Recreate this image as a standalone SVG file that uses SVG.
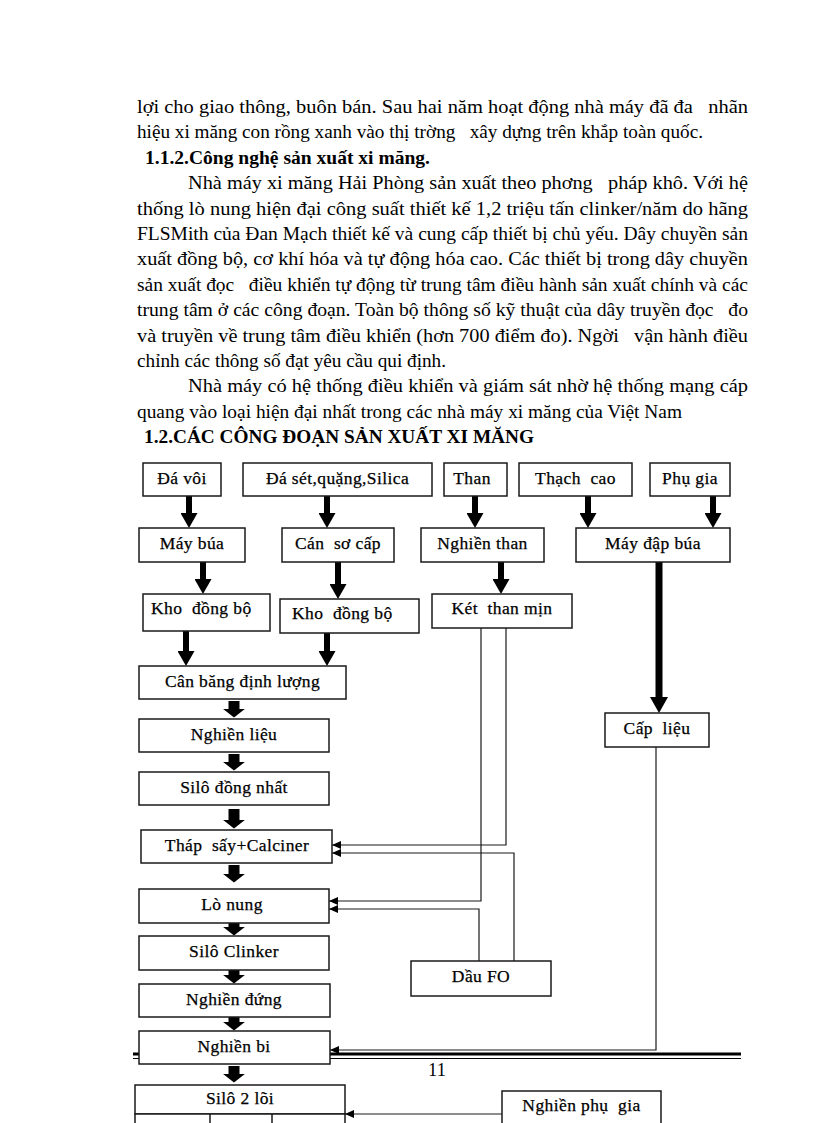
<svg xmlns="http://www.w3.org/2000/svg" width="816" height="1123" viewBox="0 0 816 1123" xml:space="preserve">
<style>
  .p { font-family: "Liberation Serif", "Times New Roman", serif; font-size: 18.5px; fill: #000; white-space: pre; }
  .h { font-family: "Liberation Serif", "Times New Roman", serif; font-size: 18.5px; font-weight: bold; fill: #000; white-space: pre; }
  .box rect { fill: #fff; stroke: #1a1a1a; stroke-width: 1.5; }
  .box text { font-family: "Liberation Serif", "Times New Roman", serif; font-size: 17.5px; letter-spacing: 0.4px; fill: #000; stroke: #000; stroke-width: 0.25; text-anchor: middle; white-space: pre; }
  .box text.l { text-anchor: start; }
  .thick { stroke: #000; stroke-width: 6; fill: none; marker-end: url(#ah); }
  .thick2 { stroke: #000; stroke-width: 7; fill: none; marker-end: url(#ah2); }
  .fat { stroke: #000; stroke-width: 11; fill: none; marker-end: url(#fh); }
  .thina { stroke: #1a1a1a; stroke-width: 1.2; fill: none; marker-end: url(#as); }
</style>
<defs>
  <marker id="ah" viewBox="0 0 15 17" markerWidth="15" markerHeight="17" refX="5" refY="8.5" orient="auto" markerUnits="userSpaceOnUse"><path d="M0,0 L15,8.5 L0,17 Z" fill="#000"/></marker>
  <marker id="ah2" viewBox="0 0 16 18" markerWidth="16" markerHeight="18" refX="5" refY="9" orient="auto" markerUnits="userSpaceOnUse"><path d="M0,0 L16,9 L0,18 Z" fill="#000"/></marker>
  <marker id="fh" viewBox="0 0 9 23" markerWidth="9" markerHeight="23" refX="0.5" refY="11.5" orient="auto" markerUnits="userSpaceOnUse"><path d="M0,0 L9,11.5 L0,23 Z" fill="#000"/></marker>
  <marker id="as" viewBox="0 0 9 8" markerWidth="9" markerHeight="8" refX="9" refY="4" orient="auto" markerUnits="userSpaceOnUse"><path d="M0,0 L9,4 L0,8 Z" fill="#000"/></marker>
</defs>
<rect width="816" height="1123" fill="#fff"/>

<g id="body-text">
  <text class="p" x="137" y="113" textLength="611" lengthAdjust="spacingAndGlyphs">lợi cho giao thông, buôn bán. Sau hai năm hoạt động nhà máy đã đa   nhãn</text>
  <text class="p" x="137" y="138.4" textLength="566" lengthAdjust="spacingAndGlyphs">hiệu xi măng con rồng xanh vào thị trờng   xây dựng trên khắp toàn quốc.</text>
  <text class="h" x="145" y="163.8" textLength="285" lengthAdjust="spacingAndGlyphs">1.1.2.Công nghệ sản xuất xi măng.</text>
  <text class="p" x="188" y="189.2" textLength="560" lengthAdjust="spacingAndGlyphs">Nhà máy xi măng Hải Phòng sản xuất theo phơng   pháp khô. Với hệ</text>
  <text class="p" x="137" y="214.6" textLength="611" lengthAdjust="spacingAndGlyphs">thống lò nung hiện đại công suất thiết kế 1,2 triệu tấn clinker/năm do hãng</text>
  <text class="p" x="137" y="240" textLength="611" lengthAdjust="spacingAndGlyphs">FLSMith của Đan Mạch thiết kế và cung cấp thiết bị chủ yếu. Dây chuyền sản</text>
  <text class="p" x="137" y="265.4" textLength="611" lengthAdjust="spacingAndGlyphs">xuất đồng bộ, cơ khí hóa và tự động hóa cao. Các thiết bị trong dây chuyền</text>
  <text class="p" x="137" y="290.8" textLength="611" lengthAdjust="spacingAndGlyphs">sản xuất đọc   điều khiển tự động từ trung tâm điều hành sản xuất chính và các</text>
  <text class="p" x="137" y="316.2" textLength="611" lengthAdjust="spacingAndGlyphs">trung tâm ở các công đoạn. Toàn bộ thông số kỹ thuật của dây truyền đọc   đo</text>
  <text class="p" x="137" y="341.6" textLength="611" lengthAdjust="spacingAndGlyphs">và truyền về trung tâm điều khiển (hơn 700 điểm đo). Ngời   vận hành điều</text>
  <text class="p" x="137" y="367" textLength="309" lengthAdjust="spacingAndGlyphs">chỉnh các thông số đạt yêu cầu qui định.</text>
  <text class="p" x="188" y="392.4" textLength="560" lengthAdjust="spacingAndGlyphs">Nhà máy có hệ thống điều khiển và giám sát nhờ hệ thống mạng cáp</text>
  <text class="p" x="137" y="417.8" textLength="545" lengthAdjust="spacingAndGlyphs">quang vào loại hiện đại nhất trong các nhà máy xi măng của Việt Nam</text>
  <text class="h" x="144" y="443.2" textLength="390" lengthAdjust="spacingAndGlyphs">1.2.CÁC CÔNG ĐOẠN SẢN XUẤT XI MĂNG</text>
</g>

<g id="footer">
  <line x1="133" y1="1054" x2="741" y2="1054" stroke="#000" stroke-width="3"/>
  <line x1="133" y1="1058.5" x2="741" y2="1058.5" stroke="#000" stroke-width="1"/>
  <text class="p" x="437" y="1076" text-anchor="middle" font-size="16">11</text>
</g>

<g id="connectors">
  <line class="thick" x1="189" y1="496" x2="189" y2="518"/>
  <line class="thick" x1="327" y1="496" x2="327" y2="518"/>
  <line class="thick" x1="475" y1="496" x2="475" y2="518"/>
  <line class="thick" x1="588" y1="496" x2="588" y2="518"/>
  <line class="thick" x1="713" y1="496" x2="713" y2="518"/>
  <line class="thick" x1="203" y1="562" x2="203" y2="584"/>
  <line class="thick" x1="338" y1="562" x2="338" y2="589"/>
  <line class="thick" x1="501" y1="562" x2="501" y2="584"/>
  <line class="thick" x1="186" y1="631" x2="186" y2="656"/>
  <line class="thick" x1="327" y1="633" x2="327" y2="656"/>
  <line class="thick2" x1="659" y1="562" x2="659" y2="702"/>

  <line class="fat" x1="234" y1="701" x2="234" y2="709"/>
  <line class="fat" x1="234" y1="754" x2="234" y2="762"/>
  <line class="fat" x1="234" y1="809" x2="234" y2="820"/>
  <line class="fat" x1="234" y1="865" x2="234" y2="874"/>
  <line class="fat" x1="234" y1="923" x2="234" y2="927"/>
  <line class="fat" x1="234" y1="970" x2="234" y2="975"/>
  <line class="fat" x1="234" y1="1017" x2="234" y2="1022"/>
  <line class="fat" x1="234" y1="1066" x2="234" y2="1074"/>

  <path class="thina" d="M506,628 V845 H332"/>
  <path class="thina" d="M481,628 V901 H329"/>
  <path class="thina" d="M514,961 V853 H332"/>
  <path class="thina" d="M479,961 V909 H329"/>
  <path class="thina" d="M656,747 V1050 H330"/>
  <path class="thina" d="M502,1114 H345"/>
</g>

<g id="n-da-voi" class="box"><rect x="143" y="463" width="78" height="33"/><text x="182" y="484">Đá vôi</text></g>
<g id="n-da-set" class="box"><rect x="243" y="463" width="189" height="33"/><text x="337.5" y="484">Đá sét,quặng,Silica</text></g>
<g id="n-than" class="box"><rect x="444" y="463" width="63" height="33"/><text x="472" y="484">Than</text></g>
<g id="n-thach-cao" class="box"><rect x="519" y="463" width="113" height="33"/><text x="575.5" y="484">Thạch  cao</text></g>
<g id="n-phu-gia" class="box"><rect x="650" y="463" width="80" height="33"/><text x="690" y="484">Phụ gia</text></g>

<g id="n-may-bua" class="box"><rect x="139" y="528" width="106" height="34"/><text x="192" y="549">Máy búa</text></g>
<g id="n-can-so-cap" class="box"><rect x="282" y="528" width="112" height="34"/><text x="338" y="549">Cán  sơ cấp</text></g>
<g id="n-nghien-than" class="box"><rect x="421" y="528" width="123" height="34"/><text x="482.5" y="549">Nghiền than</text></g>
<g id="n-may-dap-bua" class="box"><rect x="576" y="528" width="154" height="34"/><text x="653" y="549">Máy đập búa</text></g>

<g id="n-kho-1" class="box"><rect x="143" y="594" width="127" height="37"/><text class="l" x="151" y="614">Kho  đồng bộ</text></g>
<g id="n-kho-2" class="box"><rect x="280" y="599" width="139" height="34"/><text class="l" x="292" y="619">Kho  đồng bộ</text></g>
<g id="n-ket-than" class="box"><rect x="432" y="594" width="140" height="34"/><text x="502" y="614">Két  than mịn</text></g>

<g id="n-can-bang" class="box"><rect x="139" y="666" width="207" height="33"/><text x="242.5" y="687">Cân băng định lượng</text></g>
<g id="n-nghien-lieu" class="box"><rect x="139" y="719" width="190" height="33"/><text x="234" y="740">Nghiền liệu</text></g>
<g id="n-silo-dong-nhat" class="box"><rect x="139" y="772" width="190" height="33"/><text x="234" y="793">Silô đồng nhất</text></g>
<g id="n-thap-say" class="box"><rect x="141" y="830" width="191" height="33"/><text x="237" y="851">Tháp  sấy+Calciner</text></g>
<g id="n-lo-nung" class="box"><rect x="139" y="889" width="190" height="34"/><text x="232" y="910">Lò nung</text></g>
<g id="n-silo-clinker" class="box"><rect x="139" y="936" width="190" height="34"/><text x="234" y="957">Silô Clinker</text></g>
<g id="n-nghien-dung" class="box"><rect x="139" y="984" width="191" height="33"/><text x="234" y="1005">Nghiền đứng</text></g>
<g id="n-nghien-bi" class="box"><rect x="139" y="1031" width="191" height="33"/><text x="234" y="1052">Nghiền bi</text></g>

<g id="n-cap-lieu" class="box"><rect x="605" y="713" width="104" height="34"/><text x="657" y="734">Cấp  liệu</text></g>
<g id="n-dau-fo" class="box"><rect x="411" y="961" width="140" height="35"/><text x="481" y="982">Dầu FO</text></g>

<g id="n-silo-2-loi" class="box"><rect x="135" y="1085" width="210" height="29"/><text x="240" y="1104">Silô 2 lõi</text></g>
<g id="n-silo-2-loi-cells" class="box"><rect x="135" y="1114" width="210" height="20"/><line x1="210" y1="1114" x2="210" y2="1134" stroke="#1a1a1a" stroke-width="1.5"/><line x1="272" y1="1114" x2="272" y2="1134" stroke="#1a1a1a" stroke-width="1.5"/></g>
<g id="n-nghien-phu-gia" class="box"><rect x="502" y="1091" width="159" height="45"/><text x="581.5" y="1111">Nghiền phụ  gia</text></g>
</svg>
